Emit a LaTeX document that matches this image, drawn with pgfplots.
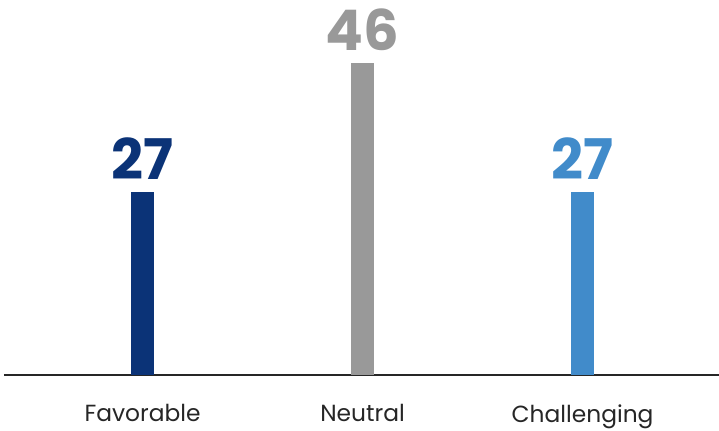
\documentclass[border=0pt]{standalone}
\usepackage{fontspec}
\setmainfont{Poppins}
\usepackage{pgfplots}
\pgfplotsset{compat=1.18}
\definecolor{cfav}{HTML}{0B3377}
\definecolor{cneu}{HTML}{999999}
\definecolor{cch}{HTML}{418BCA}
\begin{document}
\begin{tikzpicture}
\useasboundingbox (0,0) rectangle (539.25pt,322.5pt);
\begin{axis}[
  at={(3pt,41.25pt)}, anchor=south west,
  scale only axis, width=536.25pt, height=281.25pt,
  xmin=-0.63, xmax=2.62, ymin=0, ymax=55.3,
  ybar, bar width=17.25pt, bar shift=0pt,
  hide y axis, axis x line*=bottom,
  x axis line style={-, line width=0.8pt, color=black!85},
  xtick={0,1,2}, xticklabels={Favorable,Neutral,Challenging},
  major tick length=0pt,
  xticklabel style={font=\fontsize{17.5}{20}\selectfont, text=black!85, yshift=-18.5pt},
  /pgf/number format/assume math mode=true,
  nodes near coords,
  every node near coord/.append style={font=\fontsize{42}{46}\selectfont\bfseries, anchor=south, yshift=6pt},
  clip=false,
]
\addplot[fill=cfav, draw=none, nodes near coords style={text=cfav}] coordinates {(0,27)};
\addplot[fill=cneu, draw=none, nodes near coords style={text=cneu}] coordinates {(1,46)};
\addplot[fill=cch, draw=none, nodes near coords style={text=cch}] coordinates {(2,27)};
\end{axis}
\end{tikzpicture}
\end{document}
